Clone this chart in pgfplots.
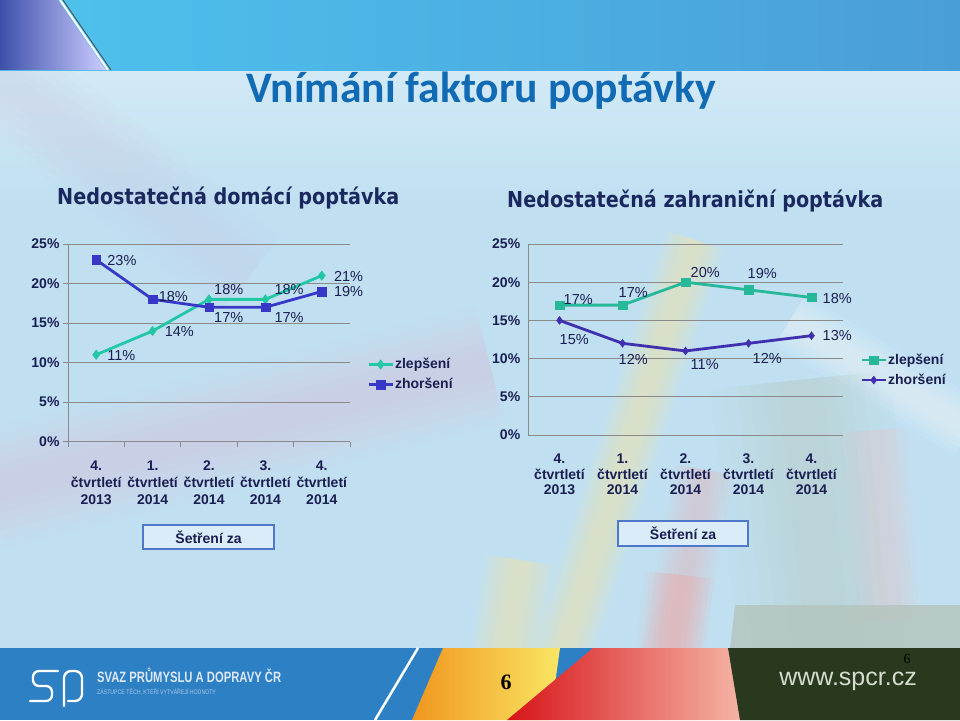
\documentclass[border=0pt]{standalone}
\usepackage{fontspec}
\setmainfont{Liberation Sans}
\newfontfamily\titlefont{Carlito}
\newfontfamily\subfont{DejaVu Sans}
\newfontfamily\seriffont{Liberation Serif}
\usepackage{pgfplots}
\pgfplotsset{compat=1.18}
\usepackage{pgfplotstable}
\definecolor{navy}{RGB}{26,30,82}
\definecolor{subnavy}{RGB}{27,40,95}
\definecolor{gridc}{RGB}{138,138,138}
\definecolor{tealA}{RGB}{34,199,165}
\definecolor{blueA}{RGB}{56,56,200}
\definecolor{tealB}{RGB}{39,184,154}
\definecolor{purpB}{RGB}{64,48,176}
\definecolor{titleblue}{RGB}{16,106,180}
\definecolor{bgblue}{RGB}{192,224,242}
\definecolor{footblue}{RGB}{46,128,196}
\definecolor{footgreen}{RGB}{40,57,30}
\definecolor{pinkA}{RGB}{222,188,214}
\definecolor{lavA}{RGB}{205,205,228}
\definecolor{yellA}{RGB}{248,232,160}
\definecolor{redA}{RGB}{238,175,175}
\definecolor{greyA}{RGB}{178,190,172}
\definecolor{pinkC}{RGB}{240,200,205}
\definecolor{greyB}{RGB}{180,196,188}
\definecolor{topL}{RGB}{78,195,238}
\definecolor{topR}{RGB}{74,158,214}
\definecolor{cornerA}{RGB}{60,80,170}
\definecolor{boxline}{RGB}{80,120,200}
\definecolor{orgL}{RGB}{240,150,30}
\definecolor{orgR}{RGB}{250,230,100}
\definecolor{redL}{RGB}{215,20,25}
\definecolor{redR}{RGB}{245,180,165}
\definecolor{urlc}{RGB}{215,220,210}
\definecolor{logoT}{RGB}{220,232,245}
\definecolor{logoS}{RGB}{170,200,230}
\newcommand\tickfont{\bfseries\fontsize{14}{17}\selectfont}
\newcommand\tickfontR{\bfseries\fontsize{14}{15.5}\selectfont}
\newcommand\labfont{\fontsize{14.5}{16}\selectfont}
\newcommand\legfont{\bfseries\fontsize{14}{16}\selectfont}

\pgfplotstableread{
x y dx dy
0 11 11 -1
1 14 12 -1
2 18 5 9.5
3 18 9 9.5
4 21 12 -1
}\domZl
\pgfplotstableread{
x y dx dy
0 23 11 -1
1 18 6 3
2 17 5 -10
3 17 9 -10
4 19 12 -0.5
}\domZh
\pgfplotstableread{
x y dx dy
0 17 4 6
1 17 -4 13
2 20 5 10
3 19 -1 16
4 18 11 -1.5
}\zahZl
\pgfplotstableread{
x y dx dy
0 15 0 -19
1 12 -4 -16
2 11 5 -14
3 12 4 -15
4 13 11 0
}\zahZh

\pgfplotsset{
 mybase/.style={
  scale only axis, clip=false,
  /pgf/number format/assume math mode=true,
  xmin=-0.5, xmax=4.5, ymin=0, ymax=25,
  ytick={0,5,10,15,20,25},
  yticklabel={\pgfmathprintnumber{\tick}\%},
  xtick={0,1,2,3,4},
  xticklabels={{4.\\čtvrtletí\\2013},{1.\\čtvrtletí\\2014},{2.\\čtvrtletí\\2014},{3.\\čtvrtletí\\2014},{4.\\čtvrtletí\\2014}},
  typeset ticklabels with strut,
  yticklabel style={font=\tickfont, text=navy},
  axis x line*=bottom, axis y line*=left,
  axis line style={draw=gridc, line width=1pt, -},
  ymajorgrids, grid style={draw=gridc, line width=0.9pt},
  tick align=outside,
  major x tick style={draw=none},
  legend style={draw=none, fill=none, font=\legfont, text=navy, row sep=6pt, nodes={inner sep=1pt}},
  legend cell align=left,
  legend image code/.code={\draw[##1, mark repeat=2, mark phase=2] plot coordinates {(0pt,0pt) (12pt,0pt) (24pt,0pt)};},
 },
 lab/.style={
  point meta=y,
  nodes near coords={\pgfmathprintnumber{\pgfplotspointmeta}\%},
  visualization depends on={\thisrow{dx}\as\ddx},
  visualization depends on={\thisrow{dy}\as\ddy},
  every node near coord/.append style={font=\labfont, text=navy, inner sep=0pt, anchor=west, xshift=\ddx, yshift=\ddy},
 }
}

\begin{document}
\begin{tikzpicture}
\begin{scope}[x=1pt,y=-1pt]
 \path[use as bounding box] (0,0) rectangle (960,720);
 % main background
 \fill[bgblue] (0,0) rectangle (960,648);
 \shade[top color=bgblue!70!white, bottom color=bgblue] (0,70) rectangle (960,200);
 % soft streaks
 \foreach \w in {100,85,70,55,40,25}{
   \draw[lavA, line width=\w, opacity=0.07] (-10,70) -- (250,275);
   \draw[pinkA, line width=1.2*\w, opacity=0.08] (-10,490) -- (490,365);
   \draw[yellA, line width=0.6*\w, opacity=0.1] (695,240) .. controls (650,380) .. (560,660);
   \draw[redA, line width=0.6*\w, opacity=0.08] (705,470) -- (670,660);
   \draw[white, line width=0.6*\w, opacity=0.08] (790,320) -- (970,430);
   \draw[pinkC, line width=0.7*\w, opacity=0.08] (875,430) -- (890,620);
   \draw[greyA, line width=1.8*\w, opacity=0.06] (800,380) -- (830,660);
   \draw[yellA, line width=0.7*\w, opacity=0.1] (520,560) -- (505,660);
   \draw[redA, line width=0.7*\w, opacity=0.1] (680,575) -- (670,660);
 }
 \fill[greyB, opacity=0.8] (735,605) -- (960,605) -- (960,648) -- (730,648) -- cycle;
 % top band
 \shade[left color=topL, right color=topR] (0,0) rectangle (960,70);
 \shade[left color=cornerA, right color=white!80!blue] (0,0) -- (58,0) -- (106,70) -- (0,70) -- cycle;
 \draw[white, line width=2pt] (60,0) -- (108,70);
 \draw[black!70, line width=0.8pt] (63,0) -- (111,70);
 % title
 \node[anchor=base, text=titleblue, inner sep=0pt] at (481,102) {\titlefont\bfseries\fontsize{43.6}{50}\selectfont Vnímání faktoru poptávky};
 \node[anchor=base west, text=subnavy, inner sep=0pt] at (57,204) {\scalebox{0.873}[1]{\subfont\bfseries\fontsize{22}{26}\selectfont Nedostatečná domácí poptávka}};
 \node[anchor=base west, text=subnavy, inner sep=0pt] at (507,207) {\scalebox{0.872}[1]{\subfont\bfseries\fontsize{22}{26}\selectfont Nedostatečná zahraniční poptávka}};
 % boxes
 \draw[draw=boxline, line width=1.5pt, fill=bgblue!60!white] (143,525) rectangle (274,549);
 \node[text=navy] at (208.5,537) {\legfont Šetření za};
 \draw[draw=boxline, line width=1.5pt, fill=bgblue!60!white] (618,521) rectangle (748,546);
 \node[text=navy] at (683,533.5) {\legfont Šetření za};
 % footer
 \fill[footblue] (0,648) rectangle (960,720);
 \draw[white, line width=2.5pt] (418,648) -- (375,720);
 \shade[left color=orgL, right color=orgR] (443,648) -- (560,648) -- (550,720) -- (412,720) -- cycle;
 \shade[left color=redL, right color=redR] (593,648) -- (730,648) -- (740,720) -- (507,720) -- cycle;
 \fill[footgreen] (728,648) -- (960,648) -- (960,720) -- (740,720) -- cycle;
 \node[text=black, inner sep=0pt] at (506,682) {\seriffont\bfseries\fontsize{22}{24}\selectfont 6};
 \node[text=black, inner sep=0pt] at (907,659) {\seriffont\fontsize{14}{16}\selectfont 6};
 \node[text=urlc, inner sep=0pt] at (848,681) {\fontsize{25}{28}\selectfont www.spcr.cz};
 % logo
 \draw[white, line width=2.3pt, line cap=round, rounded corners=6pt] (58,671) -- (33,671) -- (33,686) -- (52,686) -- (52,701) -- (30,701);
 \draw[white, line width=2.3pt, line cap=round, rounded corners=7pt] (64,706) -- (64,671) -- (82,671) -- (82,701) -- (68,701);
 \node[anchor=west, text=logoT, inner sep=0pt] at (97,675) {\scalebox{0.75}[1]{\bfseries\fontsize{15}{17}\selectfont SVAZ PRŮMYSLU A DOPRAVY ČR}};
 \node[anchor=west, text=logoS, inner sep=0pt] at (97,692) {\scalebox{0.8}[1]{\fontsize{6.5}{8}\selectfont ZÁSTUPCE TĚCH, KTEŘÍ VYTVÁŘEJÍ HODNOTY}};
\end{scope}

% left chart
\begin{axis}[mybase,
  at={(68pt,-441.7pt)}, anchor=south west,
  width=282pt, height=197.7pt,
  xticklabel style={align=center, font=\tickfont, text=navy, yshift=-8pt},
  minor xtick={-0.5,0.5,1.5,2.5,3.5,4.5},
  minor x tick style={draw=gridc, line width=1pt},
  minor tick length=5pt,
  major y tick style={draw=gridc, line width=1pt},
  major tick length=5pt,
  legend style={at={(1.05,0.34)}, anchor=west},
]
\addplot[tealA, line width=2.8pt, mark=diamond*, mark size=4.8pt, mark options={solid, line width=0.4pt, fill=tealA}, lab] table[x=x,y=y] {\domZl};
\addlegendentry{zlepšení}
\addplot[blueA, line width=2.8pt, mark=square*, mark size=4.3pt, mark options={solid, line width=0.4pt, fill=blueA}, lab] table[x=x,y=y] {\domZh};
\addlegendentry{zhoršení}
\end{axis}

% right chart
\begin{axis}[mybase,
  at={(528pt,-435pt)}, anchor=south west,
  width=315pt, height=191pt,
  xticklabel style={align=center, font=\tickfontR, text=navy, yshift=-10pt},
  major y tick style={draw=none},
  legend style={at={(1.045,0.34)}, anchor=west},
]
\addplot[tealB, line width=2.8pt, mark=square*, mark size=4.2pt, mark options={solid, line width=0.4pt, fill=tealB}, lab] table[x=x,y=y] {\zahZl};
\addlegendentry{zlepšení}
\addplot[purpB, line width=2.8pt, mark=diamond*, mark size=4pt, mark options={solid, line width=0.4pt, fill=purpB}, lab] table[x=x,y=y] {\zahZh};
\addlegendentry{zhoršení}
\end{axis}
\end{tikzpicture}
\end{document}
